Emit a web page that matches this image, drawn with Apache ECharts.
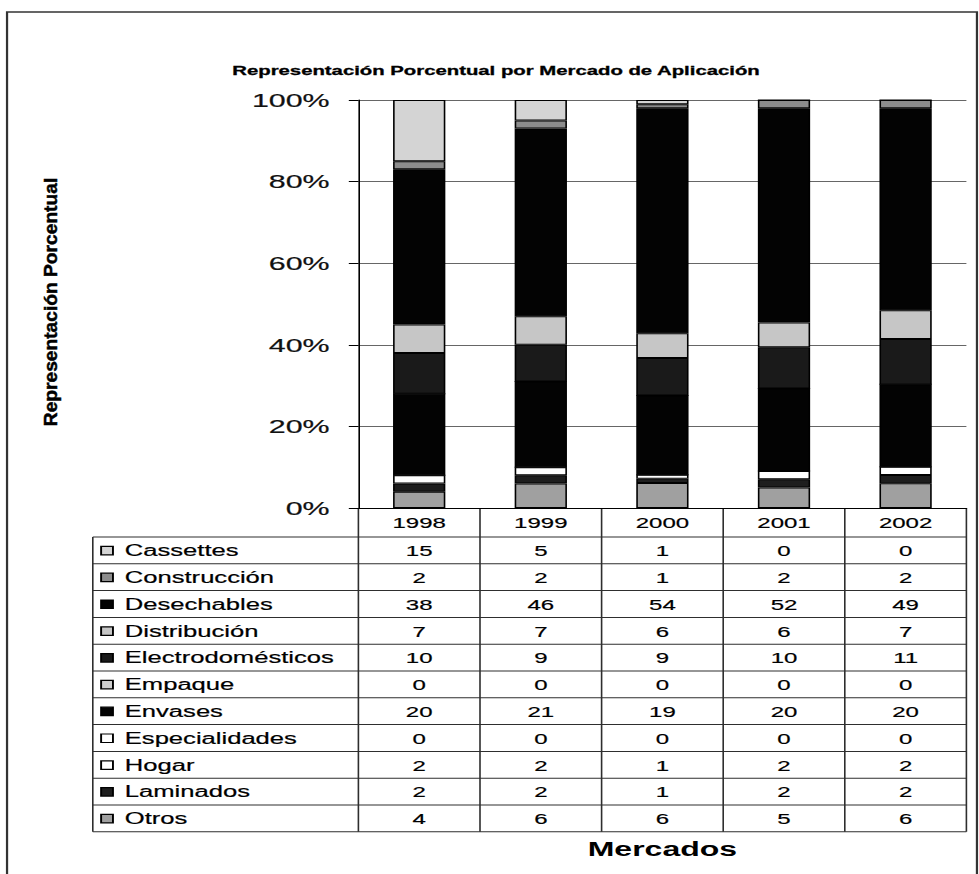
<!DOCTYPE html>
<html>
<head>
<meta charset="utf-8">
<title>Representación Porcentual por Mercado de Aplicación</title>
<script src="https://cdn.jsdelivr.net/npm/echarts/dist/echarts.min.js"></script>
<style>
  html, body { margin: 0; padding: 0; background: #fff; }
  #wrap { width: 979px; height: 874px; overflow: hidden; background: #fff; }
  /* the chart is laid out narrow and widened, giving the broad lettering of the printed figure */
  #chart { width: 612px; height: 874px; transform: scaleX(1.6); transform-origin: 0 0; }
</style>
</head>
<body>
<div id="wrap"><div id="chart"></div></div>
<script>
// Years (columns of the data table / categories of the x axis)
const years = ['1998', '1999', '2000', '2001', '2002'];

// Share of each application market, per year
const cassettes         = [15, 5, 1, 0, 0];
const construccion      = [2, 2, 1, 2, 2];
const desechables       = [38, 46, 54, 52, 49];
const distribucion      = [7, 7, 6, 6, 7];
const electrodomesticos = [10, 9, 9, 10, 11];
const empaque           = [0, 0, 0, 0, 0];
const envases           = [20, 21, 19, 20, 20];
const especialidades    = [0, 0, 0, 0, 0];
const hogar             = [2, 2, 1, 2, 2];
const laminados         = [2, 2, 1, 2, 2];
const otros             = [4, 6, 6, 5, 6];

// Row order of the data table (top to bottom)
const marketNames = ['Cassettes', 'Construcción', 'Desechables', 'Distribución',
  'Electrodomésticos', 'Empaque', 'Envases', 'Especialidades', 'Hogar', 'Laminados', 'Otros'];
const marketValues = [cassettes, construccion, desechables, distribucion,
  electrodomesticos, empaque, envases, especialidades, hogar, laminados, otros];

// Value axis tick labels
const yTickValues = [0, 20, 40, 60, 80, 100];

// Fill tones of the series
const marketColors = {
  'Cassettes': '#d4d4d4',
  'Construcción': '#8c8c8c',
  'Desechables': '#030303',
  'Distribución': '#c6c6c6',
  'Electrodomésticos': '#1a1a1a',
  'Empaque': '#cfcfcf',
  'Envases': '#030303',
  'Especialidades': '#ffffff',
  'Hogar': '#ffffff',
  'Laminados': '#1e1e1e',
  'Otros': '#a0a0a0'
};

const FONT = '"Liberation Sans", Arial, sans-serif';

// 100 % stacking: each year is scaled by its own total
const totals = years.map((_, i) => marketValues.reduce((s, arr) => s + arr[i], 0));

// First series sits at the bottom of the stack, so stack in reverse table order
const series = marketNames.map((name, k) => ({
  name: name,
  type: 'bar',
  stack: 'share',
  barWidth: '43%',
  data: marketValues[k].map((v, i) => v / totals[i] * 100),
  itemStyle: { color: marketColors[name], borderColor: '#000', borderWidth: 1 },
  emphasis: { disabled: true },
  animation: false
})).reverse();

const chart = echarts.init(document.getElementById('chart'), null, { renderer: 'svg' });

const GRID_TOP = 100, GRID_BOTTOM_Y = 508;
const HEADER_BOTTOM = 537, ROW_H = 26.8;

chart.setOption({
  animation: false,
  backgroundColor: '#fff',
  grid: { left: 224, right: 8, top: GRID_TOP, bottom: 874 - GRID_BOTTOM_Y, containLabel: false },
  xAxis: {
    type: 'category',
    data: years,
    axisLine: { show: true, lineStyle: { color: '#000', width: 1 } },
    axisTick: { show: false },
    axisLabel: { fontFamily: FONT, fontSize: 15, color: '#000', margin: 7, interval: 0,
      textBorderColor: '#000', textBorderWidth: 0.2 },
    splitLine: { show: false }
  },
  yAxis: {
    type: 'value',
    min: yTickValues[0],
    max: yTickValues[yTickValues.length - 1],
    interval: yTickValues[1] - yTickValues[0],
    axisLine: { show: true, lineStyle: { color: '#000', width: 1 } },
    axisTick: { show: true, length: 6, lineStyle: { color: '#000' } },
    axisLabel: { fontFamily: FONT, fontSize: 19, color: '#111', margin: 18, formatter: '{value}%',
      textBorderColor: '#111', textBorderWidth: 0.2 },
    splitLine: { show: true, lineStyle: { color: '#666', width: 1 } }
  },
  series: series
});

// Data table under the plot, aligned to the category bands of the x axis
const centers = years.map(y => chart.convertToPixel({ xAxisIndex: 0 }, y));
const band = centers[1] - centers[0];
const bounds = centers.map(c => c - band / 2).concat([centers[centers.length - 1] + band / 2]);
const tableLeft = 58;
const tableBottom = HEADER_BOTTOM + ROW_H * marketNames.length;

const graphics = [];
const lineStyle = { stroke: '#2e2e2e', lineWidth: 1 };

// outer frame
graphics.push({
  type: 'rect', silent: true, z: 0,
  shape: { x: 4.4, y: 12, width: 606.2, height: 900 },
  style: { fill: 'none', stroke: '#333', lineWidth: 1.4 }
});

// title
graphics.push({
  type: 'text', silent: true, x: 310, y: 71,
  style: { text: 'Representación Porcentual por Mercado de Aplicación', font: 'bold 12.7px ' + FONT,
    fill: '#000', textAlign: 'center', textVerticalAlign: 'middle', stroke: '#000', lineWidth: 0.3 }
});

// value axis name, read upwards
graphics.push({
  type: 'text', silent: true, x: 31.5, y: 302, rotation: Math.PI / 2, scaleX: 1.6,
  style: { text: 'Representación Porcentual', font: 'bold 12px ' + FONT,
    fill: '#000', textAlign: 'center', textVerticalAlign: 'middle', stroke: '#000', lineWidth: 0.3 }
});

// category axis name
graphics.push({
  type: 'text', silent: true, x: (bounds[0] + bounds[bounds.length - 1]) / 2, y: 849,
  style: { text: 'Mercados', font: 'bold 20px ' + FONT,
    fill: '#000', textAlign: 'center', textVerticalAlign: 'middle' }
});

// horizontal rules of the table
for (let r = 0; r <= marketNames.length; r++) {
  const y = HEADER_BOTTOM + r * ROW_H;
  graphics.push({ type: 'line', silent: true, shape: { x1: tableLeft, y1: y, x2: bounds[bounds.length - 1], y2: y }, style: lineStyle });
}
// vertical rules of the table
graphics.push({ type: 'line', silent: true, shape: { x1: tableLeft, y1: HEADER_BOTTOM, x2: tableLeft, y2: tableBottom }, style: lineStyle });
bounds.forEach(x => {
  graphics.push({ type: 'line', silent: true, shape: { x1: x, y1: GRID_BOTTOM_Y, x2: x, y2: tableBottom }, style: lineStyle });
});

// row labels with their colour keys, and the values
marketNames.forEach((name, r) => {
  const cy = HEADER_BOTTOM + (r + 0.5) * ROW_H;
  graphics.push({
    type: 'rect', silent: true,
    shape: { x: 63.2, y: cy - 4, width: 7.4, height: 8.5 },
    style: { fill: marketColors[name], stroke: '#000', lineWidth: 1.2 }
  });
  graphics.push({
    type: 'text', silent: true, x: 78, y: cy + 0.5,
    style: { text: name, font: '16px ' + FONT, fill: '#000', textAlign: 'left', textVerticalAlign: 'middle',
      stroke: '#000', lineWidth: 0.2 }
  });
  marketValues[r].forEach((v, i) => {
    graphics.push({
      type: 'text', silent: true, x: centers[i], y: cy + 0.5,
      style: { text: String(v), font: '15px ' + FONT, fill: '#000', textAlign: 'center', textVerticalAlign: 'middle',
        stroke: '#000', lineWidth: 0.2 }
    });
  });
});

chart.setOption({ graphic: { elements: graphics } });
</script>
</body>
</html>
